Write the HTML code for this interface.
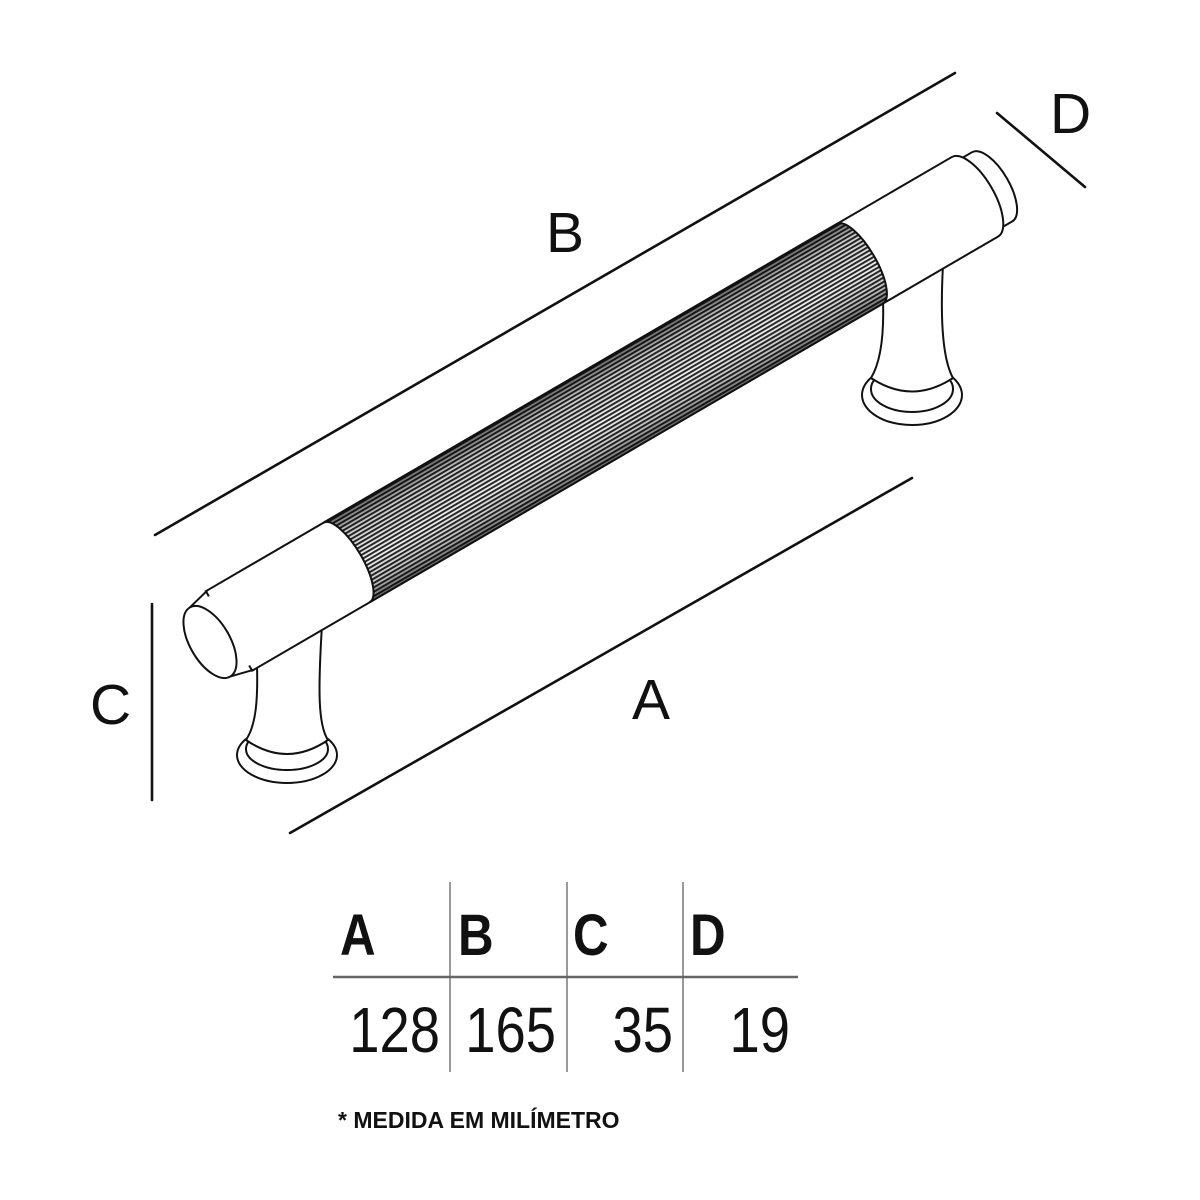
<!DOCTYPE html>
<html><head><meta charset="utf-8"><style>
html,body{margin:0;padding:0;background:#fff;}
svg{display:block;}
</style></head><body>
<svg width="1200" height="1200" viewBox="0 0 1200 1200" xmlns="http://www.w3.org/2000/svg">
<defs>
<pattern id="kn" patternUnits="userSpaceOnUse" width="20" height="3.8">
<rect width="20" height="3.8" fill="#fff"/>
<rect y="0" width="20" height="2" fill="#2a2a2a"/>
</pattern>
<linearGradient id="shade" x1="0" y1="0" x2="0" y2="1">
<stop offset="0" stop-color="#000" stop-opacity="0.6"/>
<stop offset="0.2" stop-color="#000" stop-opacity="0.2"/>
<stop offset="0.6" stop-color="#000" stop-opacity="0.05"/>
<stop offset="0.85" stop-color="#000" stop-opacity="0.25"/>
<stop offset="1" stop-color="#000" stop-opacity="0.6"/>
</linearGradient>
</defs>
<g fill="none" stroke="#111" stroke-width="2.6" stroke-linecap="round">
<line x1="155" y1="535" x2="955" y2="73"/>
<line x1="290" y1="833" x2="912" y2="478"/>
<line x1="152" y1="604" x2="152" y2="800"/>
<line x1="997" y1="113" x2="1085" y2="187"/>
</g>
<g fill="#111" font-family="Liberation Sans, sans-serif" font-size="57">
<text x="546" y="252">B</text>
<text x="632" y="719">A</text>
<text x="90" y="724">C</text>
<text x="1050" y="133">D</text>
</g>
<g fill="#fff" stroke="#111" stroke-width="2">
<ellipse cx="287" cy="755" rx="50" ry="28"/>
<ellipse cx="287" cy="749" rx="41" ry="21"/>
<path d="M257,665 C258,700 256,725 246,740 Q287,768 328,740 C318,725 318,690 322,625 Z"/>
<ellipse cx="912" cy="395" rx="50" ry="30"/>
<ellipse cx="912" cy="389" rx="41" ry="23"/>
<path d="M883,300 C884,330 882,360 871,378 Q912,405 953,378 C943,360 940,320 943,265 Z"/>
</g>
<g transform="translate(210,642) rotate(-30.2)" stroke="#111" stroke-width="2">
<path d="M875,-40 L905,-40 A17,40 0 0 1 905,40 L875,40 Z" fill="#fff"/>
<path d="M22,-46 L885,-46 A19,46 0 0 1 885,46 L22,46 Z" fill="#fff"/>
<path d="M158,-46 L752,-46 A16,46 0 0 1 752,46 L158,46 A16,46 0 0 0 158,-46 Z" fill="url(#kn)" stroke="none"/>
<path d="M158,-46 L752,-46 A16,46 0 0 1 752,46 L158,46 A16,46 0 0 0 158,-46 Z" fill="url(#shade)"/>
<path d="M0,-40 L24,-40 L24,40 L0,40 Z" fill="#fff" stroke="none"/>
<line x1="0" y1="-40" x2="24" y2="-46"/>
<line x1="0" y1="40" x2="24" y2="46"/>
<ellipse cx="0" cy="0" rx="20" ry="40" fill="#fff"/>
</g>
<g stroke="#999" stroke-width="2">
<line x1="450" y1="882" x2="450" y2="1072"/>
<line x1="567" y1="882" x2="567" y2="1072"/>
<line x1="683" y1="882" x2="683" y2="1072"/>
</g>
<line x1="333" y1="977" x2="798" y2="977" stroke="#666" stroke-width="2.5"/>
<g fill="#111" font-family="Liberation Sans, sans-serif" font-weight="bold" font-size="58">
<text x="340" y="955" transform="translate(340,0) scale(0.85,1) translate(-340,0)">A</text>
<text x="458" y="955" transform="translate(458,0) scale(0.85,1) translate(-458,0)">B</text>
<text x="573" y="955" transform="translate(573,0) scale(0.85,1) translate(-573,0)">C</text>
<text x="690" y="955" transform="translate(690,0) scale(0.85,1) translate(-690,0)">D</text>
</g>
<g fill="#111" font-family="Liberation Sans, sans-serif" font-size="64" text-anchor="end">
<text x="440" y="1052" transform="translate(440,0) scale(0.85,1) translate(-440,0)">128</text>
<text x="556" y="1052" transform="translate(556,0) scale(0.85,1) translate(-556,0)">165</text>
<text x="673" y="1052" transform="translate(673,0) scale(0.85,1) translate(-673,0)">35</text>
<text x="790" y="1052" transform="translate(790,0) scale(0.85,1) translate(-790,0)">19</text>
</g>
<text x="338" y="1128" fill="#111" font-family="Liberation Sans, sans-serif" font-weight="bold" font-size="23">* MEDIDA EM MILÍMETRO</text>
</svg>
</body></html>
